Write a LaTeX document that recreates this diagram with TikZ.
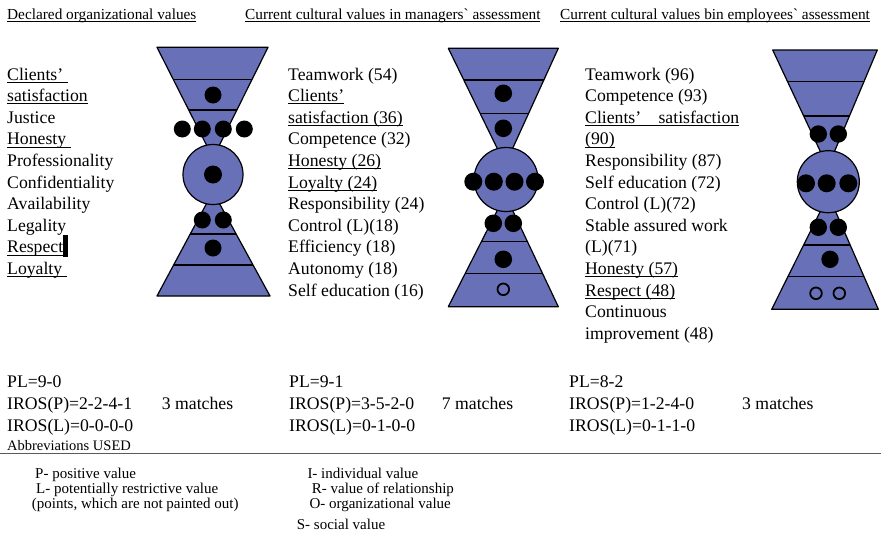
\documentclass[tikz,border=0pt]{standalone}
\usepackage{fontspec}
\setmainfont{Liberation Serif}[Ligatures=TeXOff]
\usetikzlibrary{calc}
\definecolor{hgblue}{RGB}{104,112,184}
\definecolor{rulegray}{RGB}{90,90,90}
\newcommand\myul[1]{\setbox0\hbox{#1}\rlap{\rule[-0.16em]{\wd0}{0.06em}}\box0}
\tikzset{
 body/.style={anchor=base west, inner sep=0pt, font=\fontsize{17.7}{21.6}\selectfont},
 head/.style={anchor=base west, inner sep=0pt, font=\fontsize{15.3}{18}\selectfont},
 legend/.style={anchor=base west, inner sep=0pt, font=\fontsize{15}{17}\selectfont},
 hg/.style={fill=hgblue, draw=black, line width=1.2pt, line join=round},
 band/.style={draw=black, line width=1.2pt},
 hole/.style={draw=black, line width=1.8pt},
}
\begin{document}
\begin{tikzpicture}[x=1pt,y=-1pt]
\useasboundingbox (0,0) rectangle (881,536);
\fill[white] (0,0) rectangle (881,536);

% ---------- headers ----------
\node[head] (h1) at (7,19) {\myul{Declared organizational values}};
\node[head] (h2) at (245,19) {\myul{Current cultural values in managers` assessment}};
\node[head] (h3) at (560,19) {\myul{Current cultural values bin employees` assessment}};

% ---------- column 1 ----------
\node[body] (a1) at (7,80.0) {\myul{Clients’\ }};
\node[body] (a2) at (7,101.6) {\myul{satisfaction}};
\node[body] (a3) at (7,123.2) {Justice};
\node[body] (a4) at (7,144.8) {\myul{Honesty\ }};
\node[body] (a5) at (7,166.4) {Professionality};
\node[body] (a6) at (7,188.0) {Confidentiality};
\node[body] (a7) at (7,209.6) {Availability};
\node[body] (a8) at (7,231.2) {Legality};
\node[body] (a9) at (7,252.8) {\myul{Respect}};
\node[body] (a10) at (7,274.4) {\myul{Loyalty\ }};
\fill ($(a9.base east)+(0,3.9)$) rectangle ++(4.3,-21.7);

% ---------- column 2 ----------
\node[body] (b1) at (288,80.0) {Teamwork (54)};
\node[body] (b2) at (288,101.6) {\myul{Clients’}};
\node[body] (b3) at (288,123.2) {\myul{satisfaction (36)}};
\node[body] (b4) at (288,144.8) {Competence (32)};
\node[body] (b5) at (288,166.4) {\myul{Honesty (26)}};
\node[body] (b6) at (288,188.0) {\myul{Loyalty (24)}};
\node[body] (b7) at (288,209.6) {Responsibility (24)};
\node[body] (b8) at (288,231.2) {Control (L)(18)};
\node[body] (b9) at (288,252.8) {Efficiency (18)};
\node[body] (b10) at (288,274.4) {Autonomy (18)};
\node[body] (b11) at (288,296.0) {Self education (16)};

% ---------- column 3 ----------
\node[body] (c1) at (585,80.0) {Teamwork (96)};
\node[body] (c2) at (585,101.6) {Competence (93)};
\node[body] (c3) at (585,123.2) {\myul{\hbox to 154pt{Clients’\hfil satisfaction}}};
\node[body] (c4) at (585,144.8) {\myul{(90)}};
\node[body] (c5) at (585,166.4) {Responsibility (87)};
\node[body] (c6) at (585,188.0) {Self education (72)};
\node[body] (c7) at (585,209.6) {Control (L)(72)};
\node[body] (c8) at (585,231.2) {Stable assured work};
\node[body] (c9) at (585,252.8) {(L)(71)};
\node[body] (c10) at (585,274.4) {\myul{Honesty (57)}};
\node[body] (c11) at (585,296.0) {\myul{Respect (48)}};
\node[body] (c12) at (585,317.6) {Continuous};
\node[body] (c13) at (585,339.2) {improvement (48)};

% ---------- hourglass 1 ----------
\path[hg] (157,47.3) -- (268,47.3) -- (217,150) -- (209,150) -- cycle;
\path[hg] (209,199) -- (217,199) -- (270,296) -- (157,296) -- cycle;
\begin{scope}
 \clip (157,47.3) -- (268,47.3) -- (217,150) -- (209,150) -- cycle;
 \draw[band] (140,79.3) -- (290,79.3) (140,110) -- (290,110);
\end{scope}
\begin{scope}
 \clip (209,199) -- (217,199) -- (270,296) -- (157,296) -- cycle;
 \draw[band] (140,234) -- (290,234) (140,265) -- (290,265);
\end{scope}
\path[hg] (213,174.5) circle[radius=30pt];
\fill (213,95) circle[radius=8.5pt];
\foreach \x in {182.3,202.3,223.3,244.3} \fill (\x,129) circle[radius=8.5pt];
\fill (213,174.5) circle[radius=9pt];
\foreach \x in {202.3,223.3} \fill (\x,220) circle[radius=8.5pt];
\fill (213,248) circle[radius=8.5pt];

% ---------- hourglass 2 ----------
\path[hg] (448.3,48.3) -- (558.3,48.3) -- (511,152) -- (499,152) -- cycle;
\path[hg] (499,207) -- (511,207) -- (558.3,306.7) -- (448.3,306.7) -- cycle;
\begin{scope}
 \clip (448.3,48.3) -- (558.3,48.3) -- (511,152) -- (499,152) -- cycle;
 \draw[band] (430,80) -- (580,80) (430,113.3) -- (580,113.3);
\end{scope}
\begin{scope}
 \clip (499,207) -- (511,207) -- (558.3,306.7) -- (448.3,306.7) -- cycle;
 \draw[band] (430,241.7) -- (580,241.7) (430,273.3) -- (580,273.3);
\end{scope}
\path[hg] (506,179.5) circle[radius=32pt];
\fill (503.3,93.3) circle[radius=8.8pt];
\fill (503.3,128.3) circle[radius=8.8pt];
\foreach \x in {473.3,493.8,514.5,535} \fill (\x,181.7) circle[radius=9pt];
\foreach \x in {493.3,513.3} \fill (\x,223.3) circle[radius=8.8pt];
\fill (503.3,259.3) circle[radius=8.8pt];
\draw[hole] (503.3,289.3) circle[radius=5.8pt];

% ---------- hourglass 3 ----------
\path[hg] (772.7,50) -- (877.3,50) -- (833,155) -- (822,155) -- cycle;
\path[hg] (822,208) -- (834,208) -- (878.3,309.3) -- (771.7,309.3) -- cycle;
\begin{scope}
 \clip (772.7,50) -- (877.3,50) -- (833,155) -- (822,155) -- cycle;
 \draw[band] (760,81.7) -- (890,81.7) (760,116) -- (890,116);
\end{scope}
\begin{scope}
 \clip (822,208) -- (834,208) -- (878.3,309.3) -- (771.7,309.3) -- cycle;
 \draw[band] (760,245) -- (890,245) (760,276.7) -- (890,276.7);
\end{scope}
\path[hg] (828.3,181.7) circle[radius=31pt];
\foreach \x in {818.3,838.3} \fill (\x,134) circle[radius=8.7pt];
\foreach \x in {806,826.7,848.3} \fill (\x,183.3) circle[radius=9pt];
\foreach \x in {818.3,838.3} \fill (\x,227.3) circle[radius=8.7pt];
\fill (830,259.3) circle[radius=8.7pt];
\foreach \x in {816,839.3} \draw[hole] (\x,293.3) circle[radius=5.8pt];

% ---------- summary ----------
\node[body] (p1) at (7,387.7) {PL=9-0};
\node[body] (q1) at (7,409.3) {IROS(P)=2-2-4-1};
\node[body] (m1) at (161.7,409.3) {3 matches};
\node[body] (r1) at (7,431) {IROS(L)=0-0-0-0};
\node[legend, font=\fontsize{14.5}{16}\selectfont] (ab) at (7,450) {Abbreviations USED};

\node[body] (p2) at (289,387.7) {PL=9-1};
\node[body] (q2) at (289,409.3) {IROS(P)=3-5-2-0};
\node[body] (m2) at (441.7,409.3) {7 matches};
\node[body] (r2) at (289,431) {IROS(L)=0-1-0-0};

\node[body] (p3) at (569,387.7) {PL=8-2};
\node[body] (q3) at (569,409.3) {IROS(P)=1-2-4-0};
\node[body] (m3) at (742,409.3) {3 matches};
\node[body] (r3) at (569,431) {IROS(L)=0-1-1-0};

\coordinate (ruleL) at (0,453.8);
\coordinate (ruleR) at (881,453.8);
\draw[rulegray, line width=1.3pt] (ruleL) -- (ruleR);

% ---------- legend ----------
\node[legend] (g1) at (35,478.3) {P- positive value};
\node[legend] (g2) at (36,493.3) {L- potentially restrictive value};
\node[legend] (g3) at (31.7,508.3) {(points, which are not painted out)};
\node[legend] (g4) at (307.3,478.3) {I- individual value};
\node[legend] (g5) at (311.7,493.3) {R- value of relationship};
\node[legend] (g6) at (309.3,508.8) {O- organizational value};
\node[legend] (g7) at (296.7,529) {S- social value};
\end{tikzpicture}
\end{document}
